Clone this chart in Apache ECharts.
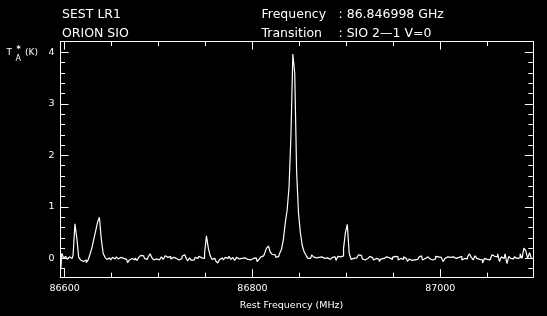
<!DOCTYPE html>
<html><head><meta charset="utf-8">
<script src="https://cdn.jsdelivr.net/npm/echarts@6/dist/echarts.min.js"></script>
<style>html,body{margin:0;padding:0;background:#000;}#c{width:547px;height:316px;}</style>
</head><body><div id="c"></div>
<script>
// channel grid of the spectrum (MHz)
const firstChannelMHz = 86596;
const channelStepMHz = 2;
// antenna temperature T*A (K), one value per channel
const antennaTemp = [
 -0.2, 0.1, 0.0, 0.04, -0.02, 0.03, 0.0, 0.06, 0.67, 0.39,
 0.02, -0.03, -0.06, -0.03, -0.08, -0.03, 0.08, 0.2, 0.37, 0.53,
 0.7, 0.8, 0.38, 0.1, 0.02, -0.02, 0.01, -0.03, 0.02, -0.01,
 0.03, -0.01, 0.02, 0.0, 0.03, -0.02, -0.08, -0.03, 0.0, -0.03,
 0.01, -0.04, 0.02, 0.06, 0.05, 0.0, -0.02, 0.03, 0.09, 0.01,
 -0.03, -0.01, -0.03, 0.0, 0.03, -0.02, 0.05, 0.02, 0.04, -0.01,
 0.02, 0.0, 0.03, -0.03, 0.0, 0.04, 0.07, 0.02, -0.05, 0.01,
 -0.04, -0.03, 0.02, 0.0, 0.04, 0.01, 0.0, 0.1, 0.44, 0.2,
 0.05, -0.02, 0.0, -0.05, -0.09, -0.02, 0.01, -0.03, 0.02, 0.0,
 0.04, -0.02, 0.02, -0.04, 0.02, -0.01, 0.0, -0.03, 0.01, -0.02,
 0.01, -0.03, 0.0, -0.02, 0.01, -0.06, -0.02, 0.03, 0.05, 0.1,
 0.2, 0.24, 0.12, 0.08, 0.07, 0.02, 0.04, 0.1, 0.18, 0.38,
 0.7, 0.95, 1.4, 2.4, 3.97, 3.6, 1.7, 0.88, 0.5, 0.25,
 0.13, 0.06, 0.0, 0.0, 0.07, 0.03, 0.01, 0.02, -0.01, 0.03,
 0.0, -0.02, 0.01, -0.02, -0.03, 0.02, 0.03, -0.04, 0.04, 0.03,
 0.05, 0.2, 0.5, 0.66, 0.1, -0.02, 0.0, 0.01, 0.02, 0.07,
 0.06, -0.01, -0.03, 0.0, 0.02, 0.04, 0.01, -0.03, 0.0, -0.02,
 -0.06, -0.01, 0.0, 0.03, 0.05, 0.01, -0.02, 0.02, 0.04, 0.03,
 -0.03, 0.0, -0.02, 0.03, 0.0, -0.06, -0.01, -0.04, -0.03, -0.05,
 -0.02, 0.02, 0.05, -0.03, 0.0, 0.03, 0.02, -0.01, -0.03, -0.01,
 0.04, 0.03, 0.02, 0.03, -0.06, 0.0, 0.03, 0.02, -0.01, 0.03,
 0.0, -0.01, 0.02, 0.04, -0.03, 0.0, -0.01, 0.03, 0.09, 0.02,
 -0.03, 0.05, 0.0, -0.02, -0.03, -0.09, 0.0, -0.02, -0.03, -0.02,
 0.07, 0.04, 0.03, 0.09, -0.06, 0.03, 0.0, 0.09, -0.1, 0.04,
 0.0, -0.01, 0.03, 0.0, 0.01, 0.09, 0.0, 0.2, 0.15, 0.0,
 0.11, 0.0
];
const xRange = [86595.6, 87098.5];
const yRange = [-0.365, 4.21];
const xMajorTicks = [86600, 86800, 87000];
const xMinorTicks = [86650, 86700, 86750, 86850, 86900, 86950, 87050];
const yMajorTicks = [0, 1, 2, 3, 4];
const yMinorTicks = [-0.2, 0.2, 0.4, 0.6, 0.8, 1.2, 1.4, 1.6, 1.8, 2.2, 2.4, 2.6, 2.8, 3.2, 3.4, 3.6, 3.8];
const headerLeft = ['SEST LR1', 'ORION SIO'];
const headerKeys = ['Frequency', 'Transition'];
const headerValues = [': 86.846998 GHz', ': SIO 2\u20141 V=0'];
const xTitle = 'Rest Frequency (MHz)';

const FONT = 'DejaVu Sans';
const W = '#ffffff';
const seriesData = antennaTemp.map((v, i) => [firstChannelMHz + i * channelStepMHz, v]);

function xAx(pos, ticks, len, labels) {
  return {
    type: 'value', min: xRange[0], max: xRange[1], position: pos, gridIndex: 0,
    axisLine: {show: true, onZero: false, lineStyle: {color: W, width: 1}},
    axisTick: {show: true, inside: true, length: len, customValues: ticks, lineStyle: {color: W, width: 1}},
    axisLabel: {show: labels, customValues: ticks, color: W, fontFamily: FONT, fontSize: 9.5, margin: 6,
      formatter: v => String(Math.round(v))},
    splitLine: {show: false}, minorTick: {show: false}
  };
}
function yAx(pos, ticks, len, labels) {
  return {
    type: 'value', min: yRange[0], max: yRange[1], position: pos, gridIndex: 0,
    axisLine: {show: true, onZero: false, lineStyle: {color: W, width: 1}},
    axisTick: {show: true, inside: true, length: len, customValues: ticks, lineStyle: {color: W, width: 1}},
    axisLabel: {show: labels, customValues: ticks, color: W, fontFamily: FONT, fontSize: 9.5, margin: 6,
      formatter: v => String(Math.round(v))},
    splitLine: {show: false}, minorTick: {show: false}
  };
}

const HF = '12.5px "' + FONT + '"';
const graphics = [];
headerLeft.forEach((t, k) => graphics.push({type: 'text', x: 62, y: 15 + k * 18.5,
  style: {text: t, fill: W, font: HF, verticalAlign: 'middle'}}));
headerKeys.forEach((t, k) => graphics.push({type: 'text', x: 261.5, y: 15 + k * 18.5,
  style: {text: t, fill: W, font: HF, verticalAlign: 'middle'}}));
headerValues.forEach((t, k) => graphics.push({type: 'text', x: 338.5, y: 15 + k * 18.5,
  style: {text: t, fill: W, font: HF, verticalAlign: 'middle'}}));
graphics.push({type: 'text', x: 291.5, y: 305.5, style: {text: xTitle, fill: W, font: '9.5px "' + FONT + '"', align: 'center', verticalAlign: 'middle'}});
graphics.push({type: 'text', x: 6.5, y: 53, style: {text: 'T', fill: W, font: '9px "' + FONT + '"', verticalAlign: 'middle'}});
graphics.push({type: 'text', x: 15.5, y: 58.5, style: {text: 'A', fill: W, font: '8px "' + FONT + '"', verticalAlign: 'middle'}});
graphics.push({type: 'text', x: 16.5, y: 50, style: {text: '*', fill: W, font: 'bold 8px "' + FONT + '"', verticalAlign: 'middle'}});
graphics.push({type: 'text', x: 25, y: 53, style: {text: '(K)', fill: W, font: '9px "' + FONT + '"', verticalAlign: 'middle'}});

const chart = echarts.init(document.getElementById('c'), null, {renderer: 'canvas'});
chart.setOption({
  backgroundColor: '#000000',
  animation: false,
  grid: {left: 60.5, right: 14.2, top: 41.6, bottom: 38.8, containLabel: false, outerBoundsMode: 'none'},
  xAxis: [
    xAx('bottom', xMajorTicks, 8, true),
    xAx('bottom', xMinorTicks, 4.5, false),
    xAx('top', xMajorTicks, 8, false),
    xAx('top', xMinorTicks, 4.5, false)
  ],
  yAxis: [
    yAx('left', yMajorTicks, 8, true),
    yAx('left', yMinorTicks, 4.5, false),
    yAx('right', yMajorTicks, 8, false),
    yAx('right', yMinorTicks, 4.5, false)
  ],
  series: [{
    type: 'line', xAxisIndex: 0, yAxisIndex: 0, data: seriesData, step: 'middle',
    showSymbol: false, symbol: 'none', clip: true,
    lineStyle: {color: W, width: 1.2}
  }],
  graphic: graphics
});
</script></body></html>
